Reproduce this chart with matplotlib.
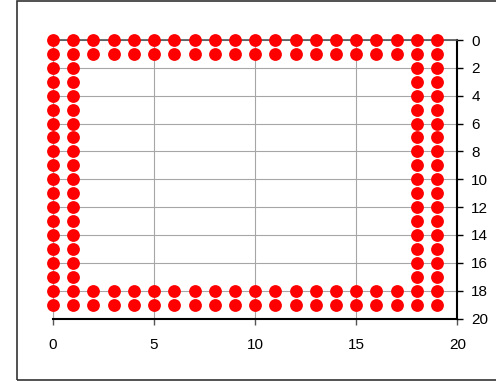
import matplotlib.pyplot as plt
from matplotlib.patches import Rectangle

plt.rcParams['font.family'] = ['Liberation Sans', 'DejaVu Sans']

# grid positions along each side of the frame
positions = [0, 1, 2, 3, 4, 5, 6, 7, 8, 9, 10, 11, 12, 13, 14, 15, 16, 17, 18, 19]
edge_rows = [0, 1, 18, 19]   # full horizontal rows
edge_cols = [0, 1, 18, 19]   # full vertical columns
x_ticks = [0, 5, 10, 15, 20]
y_ticks = [0, 2, 4, 6, 8, 10, 12, 14, 16, 18, 20]

xs, ys = [], []
for r in edge_rows:
    for p in positions:
        xs.append(p)
        ys.append(r)
for c in edge_cols:
    for p in positions:
        if p not in edge_rows:
            xs.append(c)
            ys.append(p)

fig = plt.figure(figsize=(4.96, 3.81), dpi=100)
ax = fig.add_axes([53 / 496, 1 - 318.5 / 381, (457.3 - 53) / 496, (318.5 - 40) / 381])

# chart area border (open on the right)
fig.patches.append(Rectangle((17 / 496, 0.8 / 381), 1.2, 379 / 381, transform=fig.transFigure,
                             fill=False, edgecolor='#333333', linewidth=1.2))

ax.set_xlim(0, 20)
ax.set_ylim(20, 0)
ax.set_xticks(x_ticks)
ax.set_yticks(y_ticks)
ax.yaxis.tick_right()
ax.grid(True, color='#a6a6a6', linewidth=0.8)
ax.set_axisbelow(True)

ax.scatter(xs, ys, s=85, color='#ff0000', zorder=3, clip_on=False, linewidths=0)

for side in ['bottom', 'right']:
    ax.spines[side].set_color('black')
    ax.spines[side].set_linewidth(1.5)
ax.spines['top'].set_color('#555555')
ax.spines['top'].set_linewidth(1.2)
ax.spines['left'].set_color('#a6a6a6')
ax.spines['left'].set_linewidth(0.8)

ax.tick_params(axis='x', direction='out', length=4, width=1, pad=10, labelsize=11,
               colors='black')
ax.tick_params(axis='y', direction='out', length=4, width=1, pad=6, labelsize=11,
               left=False, right=True, colors='black')
ax.tick_params(axis='x', color='#555555')

fig.savefig('out.png', dpi=100)
